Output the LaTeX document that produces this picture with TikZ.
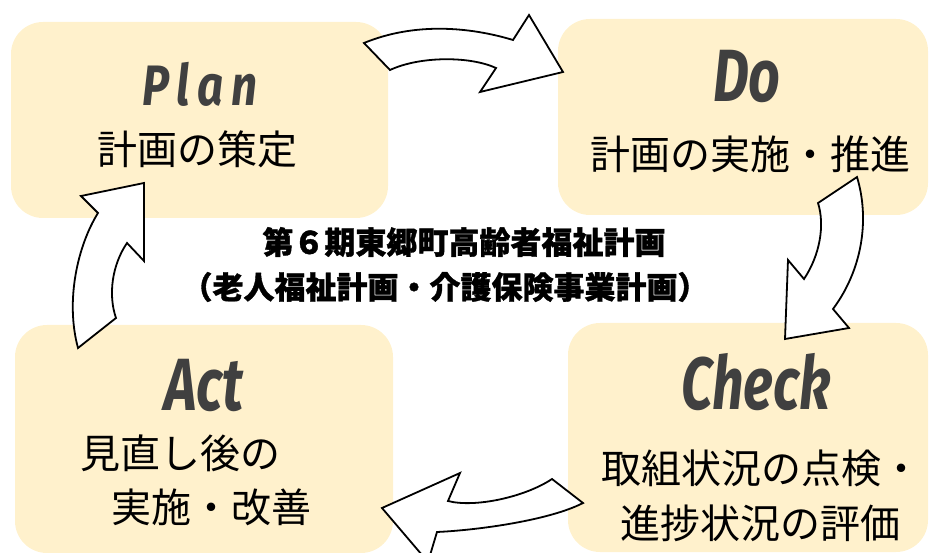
\documentclass[tikz,border=0pt]{standalone}
\usepackage{fontspec}
\newfontfamily\jp{Noto Sans CJK JP}
\newfontfamily\jpheavy{Noto Sans CJK JP}[BoldFeatures={FakeBold=1.2}]
\newfontfamily\pop{Fira Sans}[FakeStretch=0.75]
\newfontfamily\popplan{Fira Sans}[FakeStretch=0.8, LetterSpace=14]
\definecolor{boxfill}{HTML}{FFF1CC}
\definecolor{headgray}{HTML}{404040}
\tikzset{
  pdcabox/.style={fill=boxfill, draw=none, rounded corners=32pt, inner sep=0pt},
  headtxt/.style={font=\pop\bfseries\itshape\fontsize{74}{80}\selectfont, text=headgray, inner sep=0pt},
  jptxt/.style={font=\jp\fontsize{40}{44}\selectfont, inner sep=0pt},
  titletxt/.style={font=\jpheavy\bfseries\fontsize{31}{34}\selectfont, inner sep=0pt},
  blockarrow/.style={fill=white, draw=black, line width=1.8pt, line join=miter}
}
\begin{document}
\begin{tikzpicture}[x=1pt,y=-1pt]
\useasboundingbox (0,0) rectangle (929,553);
\clip (0,0) rectangle (929,553);
% boxes
\node[pdcabox, minimum width=377pt, minimum height=196pt] (plan) at (199.5,120) {};
\node[pdcabox, minimum width=370pt, minimum height=196pt] (do) at (743,117) {};
\node[pdcabox, minimum width=360pt, minimum height=229pt] (check) at (748,437.5) {};
\node[pdcabox, minimum width=378pt, minimum height=228pt] (act) at (204,439) {};
% headings
\node[headtxt, font=\popplan\bfseries\itshape\fontsize{57}{62}\selectfont] (planh) at (200,84) {Plan};
\node[headtxt] (doh) at (747,76) {Do};
\node[headtxt] (checkh) at (756,382) {Check};
\node[headtxt] (acth) at (204,385) {Act};
% japanese
\node[jptxt] (plant) at (197,149) {計画の策定};
\node[jptxt] (dot) at (750,154) {計画の実施・推進};
\node[jptxt, anchor=west] (checkt1) at (601,468) {取組状況の点検・};
\node[jptxt, anchor=west] (checkt2) at (620,523) {進捗状況の評価};
\node[jptxt, anchor=west] (actt1) at (80,453) {見直し後の};
\node[jptxt, anchor=west] (actt2) at (111,507) {実施・改善};
% title
\node[titletxt] (title1) at (464,242) {第６期東郷町高齢者福祉計画};
\node[titletxt] (title2) at (445,287) {（老人福祉計画・介護保険事業計画）};
% arrows
\draw[blockarrow] (364,43) .. controls (415,22) and (470,27) .. (513,40) -- (529,15) -- (563,72) -- (480,92) -- (496,68) .. controls (470,56) and (420,56) .. (390,70) -- cycle;
\draw[blockarrow] (818,203) -- (857,177) .. controls (870,220) and (862,270) .. (833,309) -- (849,328) -- (785,339) -- (788,260) -- (804,279) .. controls (820,255) and (825,225) .. (818,203) -- cycle;
\draw[blockarrow] (552,479) -- (583,503) .. controls (550,520) and (480,530) .. (437,532) -- (428,562) -- (382,508) -- (460,473) -- (448,501) .. controls (475,508) and (525,497) .. (552,479) -- cycle;
\draw[blockarrow] (78,348) -- (116,318) .. controls (108,295) and (112,265) .. (127,243) -- (144,261) -- (144,183) -- (81,196) -- (98,213) .. controls (78,245) and (65,300) .. (78,348) -- cycle;
\end{tikzpicture}
\end{document}
